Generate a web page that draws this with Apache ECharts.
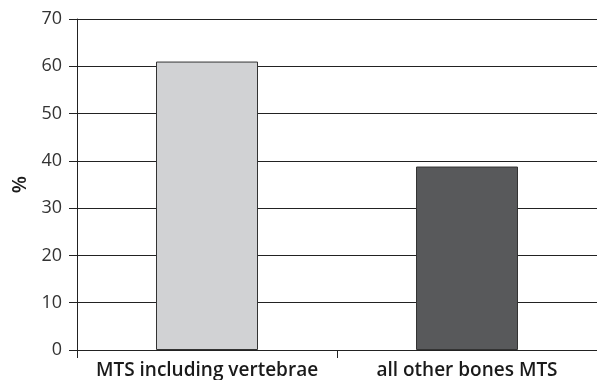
<!DOCTYPE html>
<html>
<head>
<meta charset="utf-8">
<script src="https://cdn.jsdelivr.net/npm/echarts@6/dist/echarts.min.js"></script>
<style>
  html, body { margin: 0; padding: 0; background: #fff; }
  #chart { width: 597px; height: 380px; }
</style>
</head>
<body>
<div id="chart"></div>
<script>
// Share of bone metastases by site (%)
const categories = ['MTS including vertebrae', 'all other bones MTS'];
const percentValues = [61, 38.8];
const barColors = ['#d1d2d4', '#58595b'];
const yTicks = { min: 0, max: 70, interval: 10 };

const chart = echarts.init(document.getElementById('chart'), null, { renderer: 'canvas' });
const font = '"Open Sans", "Noto Sans", sans-serif';

chart.setOption({
  animation: false,
  backgroundColor: '#ffffff',
  grid: { left: 77, right: 0, top: 19, bottom: 30, containLabel: false, outerBoundsMode: 'none' },
  xAxis: {
    type: 'category',
    data: categories,
    axisLine: { show: true, lineStyle: { color: '#222', width: 1 } },
    axisTick: { show: true, interval: 0, alignWithLabel: false, length: 8, lineStyle: { color: '#222' } },
    axisLabel: { interval: 0, hideOverlap: false, color: '#1a1a1a', fontSize: 19, fontFamily: font, fontWeight: 600, margin: 11 },
    splitLine: { show: false }
  },
  yAxis: {
    type: 'value',
    min: yTicks.min,
    max: yTicks.max,
    interval: yTicks.interval,
    name: '%',
    nameLocation: 'middle',
    nameGap: 47,
    nameRotate: 90,
    nameTextStyle: { color: '#1a1a1a', fontSize: 20, fontFamily: font, fontWeight: 600 },
    axisLine: { show: true, lineStyle: { color: '#222', width: 1 } },
    axisTick: { show: true, inside: false, length: 8, lineStyle: { color: '#222' } },
    axisLabel: { color: '#333', fontSize: 18, fontFamily: font, margin: 15 },
    splitLine: { show: true, lineStyle: { color: '#222', width: 1 } }
  },
  series: [{
    type: 'bar',
    data: percentValues.map((v, i) => ({
      value: v,
      itemStyle: { color: barColors[i], borderColor: '#333', borderWidth: 1 }
    })),
    barWidth: 102
  }]
});
</script>
</body>
</html>
